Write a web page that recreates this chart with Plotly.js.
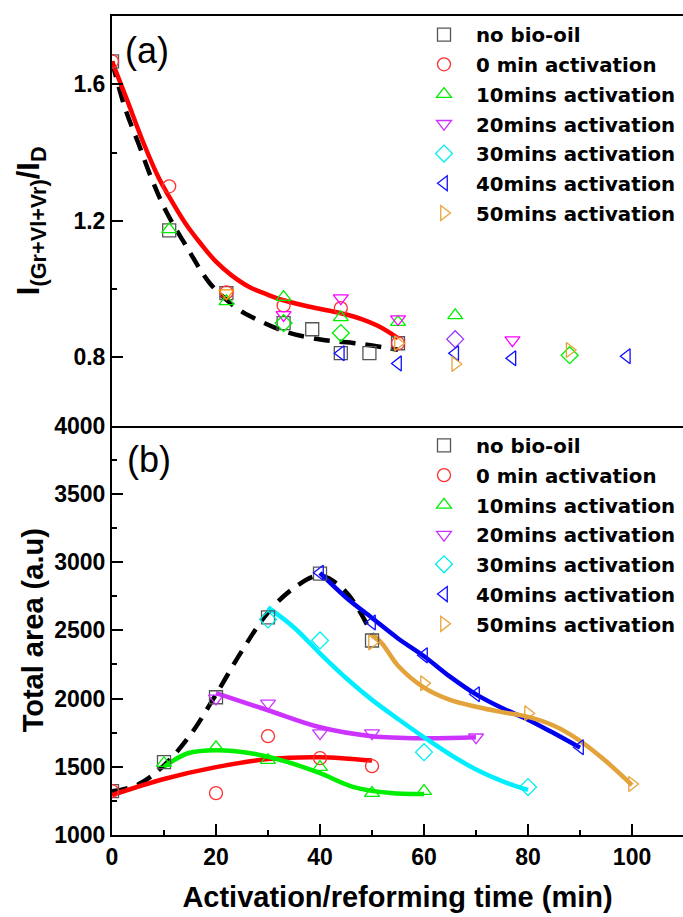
<!DOCTYPE html>
<html>
<head>
<meta charset="utf-8">
<script src="https://cdn.plot.ly/plotly-3.0.1.min.js"></script>
<style>html,body{margin:0;padding:0;background:#fff;}#chart{width:683px;height:917px;}</style>
</head>
<body>
<div id="chart"></div>
<script>
// ---------- series names ----------
const seriesNames = ['no bio-oil', '0 min activation', '10mins activation', '20mins activation',
                     '30mins activation', '40mins activation', '50mins activation'];

// ---------- panel (a): I(Gr+Vl+Vr)/ID ----------
const noBioA_x = [0, 11, 22, 33, 38.5, 44, 49.5, 55];
const noBioA_y = [1.667, 1.172, 0.988, 0.900, 0.882, 0.812, 0.812, 0.841];
const min0A_x = [0, 11, 22, 33, 44, 55];
const min0A_y = [1.667, 1.301, 0.990, 0.952, 0.944, 0.841];
const min10A_x = [11, 22, 33, 44, 55, 66];
const min10A_y = [1.175, 0.964, 0.976, 0.917, 0.903, 0.923];
const min20A_x = [22, 33, 44, 55, 77];
const min20A_y = [0.988, 0.924, 0.973, 0.912, 0.850];
const min30A_x = [33, 44, 66, 88];
const min30A_y = [0.900, 0.871, 0.853, 0.806];
const min40A_x = [44, 55, 66, 77, 99];
const min40A_y = [0.812, 0.782, 0.812, 0.797, 0.803];
const min50A_x = [55, 66, 88];
const min50A_y = [0.841, 0.780, 0.821];

// fitted curves (a)
const fitRedA_x = [0, 3, 6, 9, 11, 14, 17, 20, 23, 26.5, 30, 33, 38, 44, 48, 51, 53, 55];
const fitRedA_y = [1.667, 1.55, 1.43, 1.325, 1.27, 1.195, 1.134, 1.08, 1.04, 1.005, 0.983, 0.967, 0.948, 0.929, 0.912, 0.893, 0.876, 0.856];
const fitDashA_x = [0, 2.5, 5, 7.7, 10.5, 14.5, 18.8, 24, 27, 33.7, 41, 47, 53, 55];
const fitDashA_y = [1.667, 1.53, 1.43, 1.32, 1.225, 1.12, 1.017, 0.944, 0.917, 0.873, 0.85, 0.841, 0.827, 0.822];

// ---------- panel (b): Total area ----------
const noBioB_x = [0, 10, 20, 30, 40, 50];
const noBioB_y = [1322, 1534, 2009, 2594, 2915, 2425];
const min0B_x = [0, 20, 30, 40, 50];
const min0B_y = [1322, 1307, 1724, 1563, 1504];
const min10B_x = [10, 20, 30, 40, 50, 60];
const min10B_y = [1526, 1643, 1548, 1497, 1307, 1322];
const min20B_x = [20, 30, 40, 50, 70];
const min20B_y = [2001, 1965, 1746, 1746, 1716];
const min30B_x = [30, 40, 60, 80];
const min30B_y = [2579, 2425, 1607, 1351];
const min40B_x = [40, 50, 60, 70, 90];
const min40B_y = [2922, 2557, 2316, 2031, 1643];
const min50B_x = [50, 60, 80, 100];
const min50B_y = [2411, 2111, 1892, 1373];

// fitted curves (b)
const fitDashB_x = [0, 5, 10, 15, 20, 25, 30, 35, 40, 45, 50];
const fitDashB_y = [1320, 1370, 1510, 1730, 2030, 2350, 2630, 2810, 2900, 2780, 2470];
const fitRedB_x = [0, 10, 20, 30, 40, 50];
const fitRedB_y = [1292, 1410, 1497, 1556, 1570, 1545];
const fitGreenB_x = [10, 14.6, 20, 26.7, 33.8, 40, 46.5, 53.6, 60];
const fitGreenB_y = [1500, 1599, 1621, 1599, 1534, 1453, 1351, 1307, 1300];
const fitPurpleB_x = [20, 30, 40, 50, 60, 70];
const fitPurpleB_y = [2040, 1914, 1789, 1724, 1709, 1716];
const fitCyanB_x = [30, 35, 40, 45, 50, 55, 60, 65, 70, 75, 80];
const fitCyanB_y = [2667, 2520, 2330, 2150, 1990, 1850, 1716, 1590, 1480, 1395, 1330];
const fitBlueB_x = [40, 45, 50, 55, 60, 65, 70, 75, 80, 85, 90];
const fitBlueB_y = [2920, 2740, 2590, 2440, 2310, 2160, 2030, 1930, 1845, 1745, 1640];
const fitOrangeB_x = [50, 52, 55, 60, 65, 70, 75, 80, 85, 90, 95, 100];
const fitOrangeB_y = [2470, 2400, 2240, 2080, 1990, 1940, 1900, 1865, 1800, 1690, 1540, 1365];

// ---------- styles ----------
const FONT = 'Liberation Sans, Arial, Helvetica, sans-serif';
const LEGFONT = 'DejaVu Sans, Liberation Sans, Arial, sans-serif';
const symbols = ['square-open', 'circle-open', 'triangle-up-open', 'triangle-down-open',
                 'diamond-open', 'triangle-left-open', 'triangle-right-open'];
const markerColors = ['#555555', '#FF3030', '#00EE00', '#CC33FF', '#00EEEE', '#1010FF', '#E8A33A'];
const colors20A = ['#FF8C00', '#FF00FF', '#FF00FF', '#FF00FF', '#FF00FF'];
const colors30A = ['#00EE00', '#00EE00', '#9933FF', '#00EE00'];
const MS = 13;

function mk(x, y, i, xa, ya, opts) {
  opts = opts || {};
  const t = {
    type: 'scatter', mode: 'markers', x: x, y: y, xaxis: xa, yaxis: ya,
    name: seriesNames[i], showlegend: !!opts.legend, legend: opts.legend || 'legend',
    marker: { symbol: symbols[i], size: MS, color: opts.colors || markerColors[i], line: { width: 1.3 } },
    hoverinfo: 'skip'
  };
  if (opts.legend) t.legendgroup = opts.legend + '_' + i;
  return t;
}
function fit(x, y, color, xa, ya, dash) {
  return {
    type: 'scatter', mode: 'lines', x: x, y: y, xaxis: xa, yaxis: ya, showlegend: false,
    line: { color: color, width: 4.5, shape: 'spline', smoothing: 1, dash: dash ? '16px,10px' : 'solid' },
    hoverinfo: 'skip'
  };
}

const data = [
  fit(fitDashA_x, fitDashA_y, '#000000', 'x2', 'y2', true),
  fit(fitRedA_x, fitRedA_y, '#FF0000', 'x2', 'y2', false),
  mk(noBioA_x, noBioA_y, 0, 'x2', 'y2'),
  mk(min0A_x, min0A_y, 1, 'x2', 'y2'),
  mk(min10A_x, min10A_y, 2, 'x2', 'y2'),
  mk(min20A_x, min20A_y, 3, 'x2', 'y2', { colors: colors20A }),
  mk(min30A_x, min30A_y, 4, 'x2', 'y2', { colors: colors30A }),
  mk(min40A_x, min40A_y, 5, 'x2', 'y2'),
  mk(min50A_x, min50A_y, 6, 'x2', 'y2'),
  fit(fitDashB_x, fitDashB_y, '#000000', 'x', 'y', true),
  fit(fitRedB_x, fitRedB_y, '#FF0000', 'x', 'y', false),
  fit(fitGreenB_x, fitGreenB_y, '#00EE00', 'x', 'y', false),
  fit(fitPurpleB_x, fitPurpleB_y, '#CC33FF', 'x', 'y', false),
  fit(fitCyanB_x, fitCyanB_y, '#00EEFF', 'x', 'y', false),
  fit(fitBlueB_x, fitBlueB_y, '#0000EE', 'x', 'y', false),
  fit(fitOrangeB_x, fitOrangeB_y, '#E3A33A', 'x', 'y', false),
  mk(noBioB_x, noBioB_y, 0, 'x', 'y', { legend: 'legend2' }),
  mk(min0B_x, min0B_y, 1, 'x', 'y', { legend: 'legend2' }),
  mk(min10B_x, min10B_y, 2, 'x', 'y', { legend: 'legend2' }),
  mk(min20B_x, min20B_y, 3, 'x', 'y', { legend: 'legend2' }),
  mk(min30B_x, min30B_y, 4, 'x', 'y', { legend: 'legend2' }),
  mk(min40B_x, min40B_y, 5, 'x', 'y', { legend: 'legend2' }),
  mk(min50B_x, min50B_y, 6, 'x', 'y', { legend: 'legend2' })
];
// legend entries for panel (a) (no points of their own)
seriesNames.forEach(function (n, i) {
  data.push({
    type: 'scatter', mode: 'markers', x: [null], y: [null], xaxis: 'x2', yaxis: 'y2',
    name: n, legend: 'legend', showlegend: true, legendgroup: 'legend_' + i,
    marker: { symbol: symbols[i], size: MS, color: markerColors[i], line: { width: 1.3 } },
    hoverinfo: 'skip'
  });
});

const tickFont = { family: FONT, size: 23, color: '#000', weight: 'bold' };
const axBase = {
  showline: true, linewidth: 2, linecolor: '#000', ticks: 'inside', ticklen: 11, tickwidth: 2,
  tickcolor: '#000', showgrid: false, zeroline: false, tickfont: tickFont, fixedrange: true
};
const legBase = {
  xanchor: 'left', yanchor: 'top', bgcolor: 'rgba(0,0,0,0)', borderwidth: 0,
  font: { family: LEGFONT, size: 19.8, color: '#000', weight: 'bold' }, tracegroupgap: 1, itemwidth: 54
};

const layout = {
  width: 683, height: 917,
  margin: { l: 112, r: 0, t: 16, b: 82 },
  paper_bgcolor: '#fff', plot_bgcolor: '#fff',
  showlegend: true, hovermode: false,
  xaxis: Object.assign({}, axBase, {
    domain: [0, 1], anchor: 'y', range: [0, 109.8], dtick: 20, tick0: 0,
    minor: { dtick: 10, ticks: 'inside', ticklen: 5, tickwidth: 2, tickcolor: '#000' },
    title: { text: 'Activation/reforming time (min)', font: { family: FONT, size: 29, color: '#000', weight: 'bold' }, standoff: 18 }
  }),
  yaxis: Object.assign({}, axBase, {
    domain: [0, 0.5], anchor: 'x', range: [1000, 4000], dtick: 500, tick0: 0,
    minor: { dtick: 250, ticks: 'inside', ticklen: 5, tickwidth: 2, tickcolor: '#000' },
    title: { text: 'Total area (a.u)', font: { family: FONT, size: 29, color: '#000', weight: 'bold' } }
  }),
  xaxis2: Object.assign({}, axBase, {
    domain: [0, 1], anchor: 'y2', matches: 'x', range: [0, 109.8], showticklabels: false,
    ticks: '', mirror: true
  }),
  yaxis2: Object.assign({}, axBase, {
    domain: [0.5, 1], anchor: 'x2', range: [0.6, 1.8], dtick: 0.4, tick0: 0, tickformat: '.1f',
    minor: { dtick: 0.2, ticks: 'inside', ticklen: 5, tickwidth: 2, tickcolor: '#000' },
    title: { text: 'I<sub>(Gr+Vl+Vr)</sub>/I<sub>D</sub>', font: { family: FONT, size: 31, color: '#000', weight: 'bold' } }
  }),
  legend: Object.assign({}, legBase, { x: 0.5254, y: 1.001 }),
  legend2: Object.assign({}, legBase, { x: 0.5254, y: 0.4994 }),
  annotations: [
    { text: '(a)', xref: 'paper', yref: 'paper', x: 0.019, y: 0.958, xanchor: 'left', yanchor: 'middle',
      showarrow: false, font: { family: FONT, size: 36, color: '#000' } },
    { text: '(b)', xref: 'paper', yref: 'paper', x: 0.023, y: 0.458, xanchor: 'left', yanchor: 'middle',
      showarrow: false, font: { family: FONT, size: 36, color: '#000' } }
  ]
};

Plotly.newPlot('chart', data, layout, { staticPlot: true, displayModeBar: false });
</script>
</body>
</html>
